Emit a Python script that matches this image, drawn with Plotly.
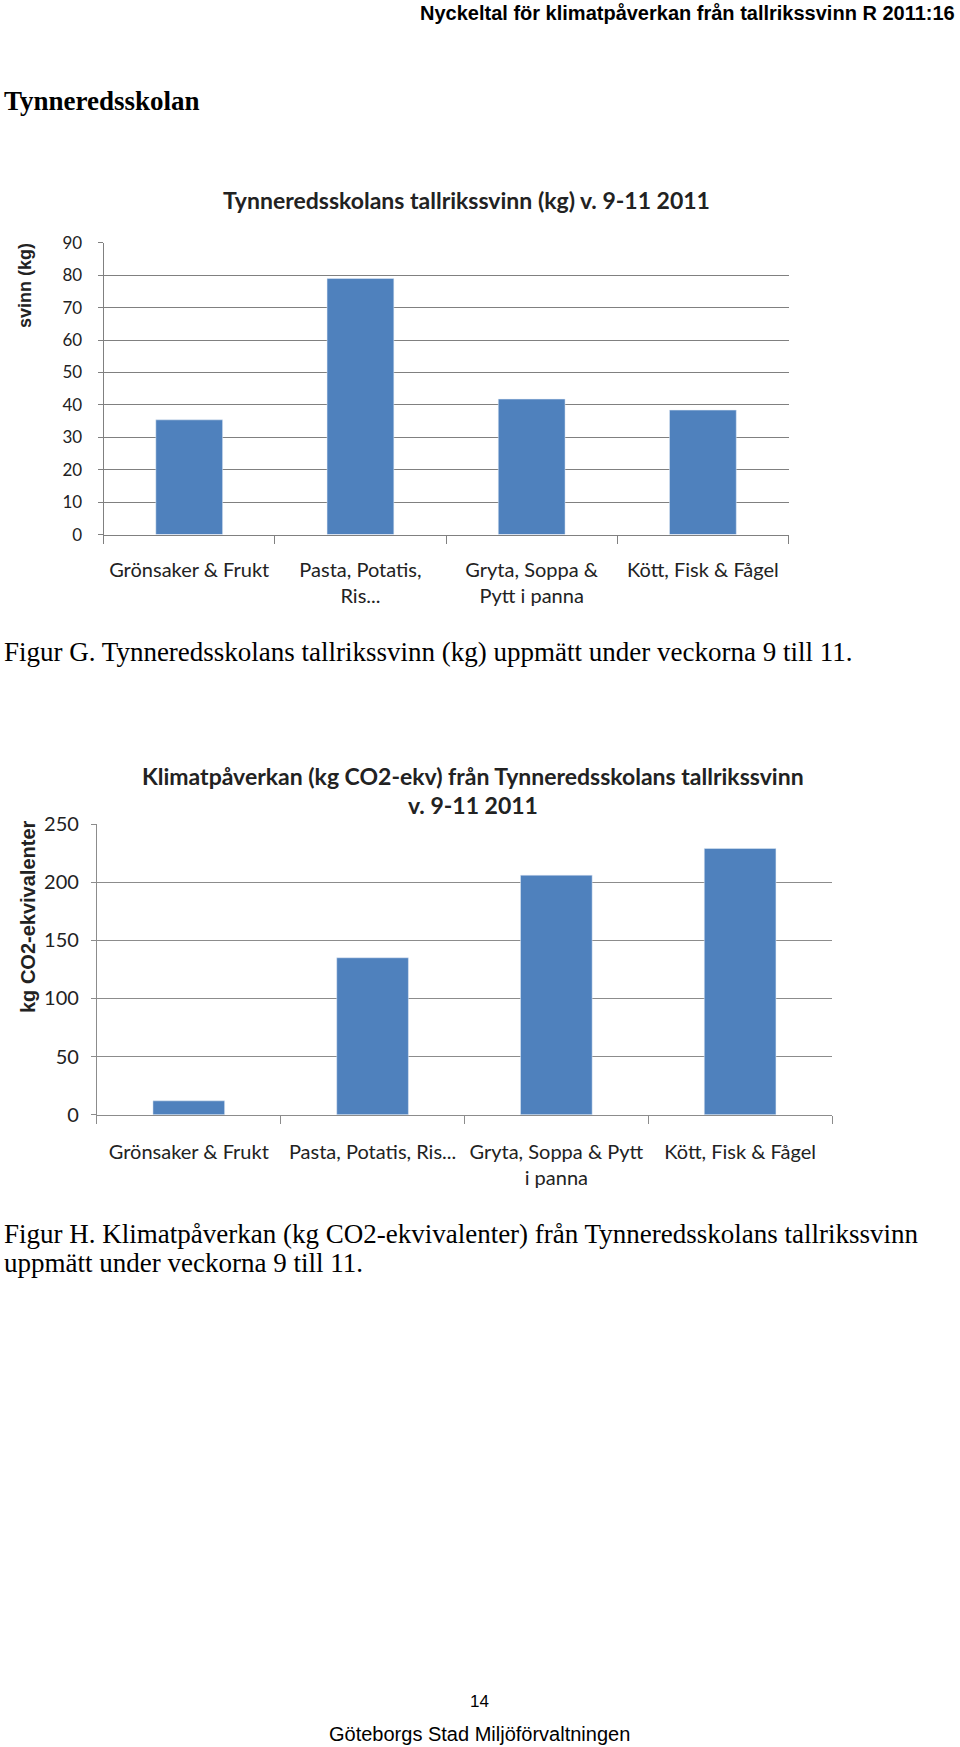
import plotly.graph_objects as go

H = 1747.0
W = 960.0

# ---- data ----
cats1 = ["Grönsaker & Frukt", "Pasta, Potatis,<br>Ris...", "Gryta, Soppa &<br>Pytt i panna", "Kött, Fisk & Fågel"]
svinn_kg = [35.4, 79.0, 41.8, 38.4]
y1_ticks = [0, 10, 20, 30, 40, 50, 60, 70, 80, 90]

cats2 = ["Grönsaker & Frukt", "Pasta, Potatis, Ris...", "Gryta, Soppa & Pytt<br>i panna", "Kött, Fisk & Fågel"]
co2_kg = [12, 135, 206, 229]
y2_ticks = [0, 50, 100, 150, 200, 250]

BLUE = "#4F81BD"
CHART_FONT = "Lato, Open Sans, sans-serif"
SERIF = "Liberation Serif, Times New Roman, serif"
SANS = "Liberation Sans, Arial, sans-serif"

def py(px):
    return 1 - px / H

def pxx(px):
    return px / W

fig = go.Figure()
fig.add_trace(go.Bar(x=cats1, y=svinn_kg, marker_color=BLUE, xaxis="x", yaxis="y",
                     showlegend=False, hoverinfo="x+y"))
fig.add_trace(go.Bar(x=cats2, y=co2_kg, marker_color=BLUE, xaxis="x2", yaxis="y2",
                     showlegend=False, hoverinfo="x+y"))

fig.update_layout(
    width=960, height=1747,
    margin=dict(l=0, r=0, t=0, b=0, pad=0, autoexpand=False),
    paper_bgcolor="white", plot_bgcolor="white",
    bargap=0.61,
    xaxis=dict(domain=[pxx(103.6), pxx(788.5)], anchor="y", type="category",
               showline=True, linecolor="#808080", linewidth=1,
               ticks="outside", tickson="boundaries", ticklen=8, tickcolor="#808080",
               ticklabelstandoff=17, automargin=False, tickangle=0,
               tickfont=dict(family=CHART_FONT, size=20, color="#222"),
               showgrid=False, fixedrange=True),
    yaxis=dict(domain=[py(534.6), py(242.8)], anchor="x", range=[0, 90],
               tickvals=y1_ticks, showline=True, linecolor="#808080", linewidth=1,
               ticks="outside", ticklen=5, tickcolor="#808080",
               ticklabelstandoff=12, automargin=False,
               gridcolor="#808080", gridwidth=1,
               tickfont=dict(family=CHART_FONT, size=17, color="#222"),
               zeroline=False, fixedrange=True),
    xaxis2=dict(domain=[pxx(96.9), pxx(832)], anchor="y2", type="category",
                showline=True, linecolor="#8c8c8c", linewidth=1,
                ticks="outside", tickson="boundaries", ticklen=8, tickcolor="#8c8c8c",
                ticklabelstandoff=19, automargin=False, tickangle=0,
                tickfont=dict(family=CHART_FONT, size=20, color="#222"),
                showgrid=False, fixedrange=True),
    yaxis2=dict(domain=[py(1114.8), py(824)], anchor="x2", range=[0, 250],
                tickvals=y2_ticks, showline=True, linecolor="#8c8c8c", linewidth=1,
                ticks="outside", ticklen=5, tickcolor="#8c8c8c",
                ticklabelstandoff=8, automargin=False,
                gridcolor="#8c8c8c", gridwidth=1,
                tickfont=dict(family=CHART_FONT, size=20, color="#222"),
                zeroline=False, fixedrange=True),
)

ann = []
def add(text, x, y, size, family, xanchor="left", color="black", textangle=0, yanchor="middle"):
    ann.append(dict(text=text, x=x, y=y, xref="paper", yref="paper", showarrow=False,
                    xanchor=xanchor, yanchor=yanchor, textangle=textangle,
                    font=dict(size=size, family=family, color=color)))

add("<b>Nyckeltal för klimatpåverkan från tallrikssvinn R 2011:16</b>", pxx(957), py(13), 20,
    SANS, xanchor="right")
add("<b>Tynneredsskolan</b>", pxx(2), py(101), 27, SERIF)
add("<b>Tynneredsskolans tallrikssvinn (kg) v. 9-11 2011</b>", pxx(466), py(200), 23, CHART_FONT, xanchor="center", color="#222")
add("<b>svinn (kg)</b>", pxx(25), py(286), 18, SANS, xanchor="center", textangle=-90, color="#222")
add("Figur G. Tynneredsskolans tallrikssvinn (kg) uppmätt under veckorna 9 till 11.", pxx(2), py(652), 27, SERIF)
add("<b>Klimatpåverkan (kg CO2-ekv) från Tynneredsskolans tallrikssvinn</b>", pxx(473), py(776), 23, CHART_FONT, xanchor="center", color="#222")
add("<b>v. 9-11 2011</b>", pxx(473), py(805), 23, CHART_FONT, xanchor="center", color="#222")
add("<b>kg CO2-ekvivalenter</b>", pxx(28), py(917), 20, SANS, xanchor="center", textangle=-90, color="#222")
add("Figur H. Klimatpåverkan (kg CO2-ekvivalenter) från Tynneredsskolans tallrikssvinn", pxx(2), py(1234), 27, SERIF)
add("uppmätt under veckorna 9 till 11.", pxx(2), py(1263), 27, SERIF)
add("14", pxx(479), py(1701), 17, SANS, xanchor="center")
add("Göteborgs Stad Miljöförvaltningen", pxx(479), py(1734), 20, SANS, xanchor="center")

fig.update_layout(annotations=ann)
fig.write_html("out.html", config={"displayModeBar": False},
               post_script="document.body.style.margin='0px';")
